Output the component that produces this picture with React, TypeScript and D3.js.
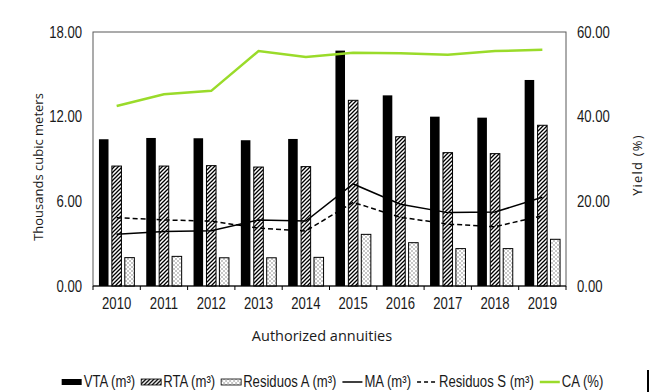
import React, { useEffect, useRef } from 'react';
import * as d3 from 'd3';

// Data
const years = ['2010', '2011', '2012', '2013', '2014', '2015', '2016', '2017', '2018', '2019'];
const vta = [10.40, 10.49, 10.47, 10.33, 10.42, 16.68, 13.51, 12.00, 11.93, 14.60];
const rta = [8.50, 8.50, 8.53, 8.43, 8.46, 13.16, 10.58, 9.45, 9.38, 11.39];
const residuosA = [2.01, 2.10, 2.00, 2.00, 2.03, 3.66, 3.07, 2.65, 2.65, 3.31];
const ma = [3.66, 3.87, 3.92, 4.68, 4.60, 7.23, 5.79, 5.20, 5.24, 6.29];
const residuosS = [4.84, 4.68, 4.60, 4.10, 3.90, 5.93, 4.87, 4.39, 4.20, 4.98];
const ca = [42.5, 45.3, 46.1, 55.5, 54.1, 55.1, 55.0, 54.6, 55.5, 55.8];

const leftTicks = [0, 6, 12, 18];
const rightTicks = [0, 20, 40, 60];

const barSeries = ['VTA', 'RTA', 'ResA'];

const WIDTH = 652;
const HEIGHT = 392;
const FONT = '"Liberation Sans", Arial, sans-serif';
const SQUEEZE = 0.82; // fake narrow glyphs
const TITLE_FONT = '"Open Sans", "DejaVu Sans", sans-serif';
const TEXT_COLOR = '#1a1a1a';
const GREEN = '#9ADB2A';

const App: React.FC = () => {
  const svgRef = useRef<SVGSVGElement>(null);

  useEffect(() => {
    if (!svgRef.current) return;
    const svg = d3.select(svgRef.current);
    svg.selectAll('*').remove();

    const margin = { top: 32, right: 86, bottom: 106, left: 93 };
    const innerW = WIDTH - margin.left - margin.right;
    const innerH = HEIGHT - margin.top - margin.bottom;

    // Patterns
    const defs = svg.append('defs');
    const hatch = defs.append('pattern')
      .attr('id', 'hatch')
      .attr('patternUnits', 'userSpaceOnUse')
      .attr('width', 4)
      .attr('height', 4);
    hatch.append('rect').attr('width', 4).attr('height', 4).attr('fill', '#fff');
    hatch.append('path')
      .attr('d', 'M-1,1 l2,-2 M0,4 l4,-4 M3,5 l2,-2')
      .attr('stroke', '#000')
      .attr('stroke-width', 1.3);

    const dots = defs.append('pattern')
      .attr('id', 'dots')
      .attr('patternUnits', 'userSpaceOnUse')
      .attr('width', 4)
      .attr('height', 4);
    dots.append('rect').attr('width', 4).attr('height', 4).attr('fill', '#fff');
    dots.append('rect').attr('x', 0.5).attr('y', 0.5).attr('width', 1).attr('height', 1).attr('fill', '#222');
    dots.append('rect').attr('x', 2.5).attr('y', 2.5).attr('width', 1).attr('height', 1).attr('fill', '#222');

    const fills: Record<string, string> = { VTA: '#000', RTA: 'url(#hatch)', ResA: 'url(#dots)' };
    const values: Record<string, number[]> = { VTA: vta, RTA: rta, ResA: residuosA };

    const g = svg.append('g').attr('transform', `translate(${margin.left},${margin.top})`);

    // Scales
    const x = d3.scaleBand().domain(years).range([0, innerW]).paddingInner(0).paddingOuter(0);
    const xInner = d3.scaleBand().domain(barSeries).range([0, x.bandwidth()])
      .paddingInner(0.26).paddingOuter(0.46);
    const yLeft = d3.scaleLinear().domain([0, 18]).range([innerH, 0]);
    const yRight = d3.scaleLinear().domain([0, 60]).range([innerH, 0]);

    // Plot frame
    g.append('rect')
      .attr('width', innerW)
      .attr('height', innerH)
      .attr('fill', 'none')
      .attr('stroke', '#595959')
      .attr('stroke-width', 1);

    // Bars
    barSeries.forEach(s => {
      g.append('g')
        .selectAll('rect')
        .data(values[s])
        .join('rect')
        .attr('x', (_, i) => (x(years[i]) as number) + (xInner(s) as number))
        .attr('y', d => yLeft(d))
        .attr('width', xInner.bandwidth())
        .attr('height', d => innerH - yLeft(d))
        .attr('fill', fills[s])
        .attr('stroke', '#000')
        .attr('stroke-width', s === 'VTA' ? 0 : 1);
    });

    const cx = (i: number) => (x(years[i]) as number) + x.bandwidth() / 2;

    // Lines
    const lineLeft = d3.line<number>().x((_, i) => cx(i)).y(d => yLeft(d));
    const lineRight = d3.line<number>().x((_, i) => cx(i)).y(d => yRight(d));

    g.append('path')
      .datum(ma)
      .attr('fill', 'none')
      .attr('stroke', '#000')
      .attr('stroke-width', 1.5)
      .attr('d', lineLeft);

    g.append('path')
      .datum(residuosS)
      .attr('fill', 'none')
      .attr('stroke', '#000')
      .attr('stroke-width', 1.5)
      .attr('stroke-dasharray', '5,3')
      .attr('d', lineLeft);

    g.append('path')
      .datum(ca)
      .attr('fill', 'none')
      .attr('stroke', GREEN)
      .attr('stroke-width', 2.5)
      .attr('d', lineRight);

    // X axis line + ticks at band boundaries
    g.append('line')
      .attr('x1', 0).attr('x2', innerW)
      .attr('y1', innerH).attr('y2', innerH)
      .attr('stroke', '#000');
    const boundaries = years.map(yr => x(yr) as number).concat([innerW]);
    g.append('g')
      .selectAll('line')
      .data(boundaries)
      .join('line')
      .attr('x1', d => d).attr('x2', d => d)
      .attr('y1', innerH).attr('y2', innerH + 4)
      .attr('stroke', '#000');

    g.append('g')
      .selectAll('text')
      .data(years)
      .join('text')
      .attr('transform', d => `translate(${(x(d) as number) + x.bandwidth() / 2},${innerH + 23}) scale(${SQUEEZE},1)`)
      .attr('text-anchor', 'middle')
      .attr('font-family', FONT)
      .attr('font-size', 16)
      .attr('fill', TEXT_COLOR)
      .text(d => d);

    // Y axes labels
    g.append('g')
      .selectAll('text')
      .data(leftTicks)
      .join('text')
      .attr('transform', d => `translate(-11,${yLeft(d)}) scale(${SQUEEZE},1)`)
      .attr('dy', '0.35em')
      .attr('text-anchor', 'end')
      .attr('font-family', FONT)
      .attr('font-size', 16)
      .attr('fill', TEXT_COLOR)
      .text(d => d3.format('.2f')(d));

    g.append('g')
      .selectAll('text')
      .data(rightTicks)
      .join('text')
      .attr('transform', d => `translate(${innerW + 11},${yRight(d)}) scale(${SQUEEZE},1)`)
      .attr('dy', '0.35em')
      .attr('text-anchor', 'start')
      .attr('font-family', FONT)
      .attr('font-size', 16)
      .attr('fill', TEXT_COLOR)
      .text(d => d3.format('.2f')(d));

    // Axis titles
    svg.append('text')
      .attr('x', 322)
      .attr('y', 341)
      .attr('text-anchor', 'middle')
      .attr('font-family', TITLE_FONT)
      .attr('font-size', 14.5)
      .attr('fill', TEXT_COLOR)
      .text('Authorized annuities');

    svg.append('text')
      .attr('transform', 'translate(43,167) rotate(-90)')
      .attr('text-anchor', 'middle')
      .attr('font-family', TITLE_FONT)
      .attr('font-size', 13)
      .attr('fill', TEXT_COLOR)
      .text('Thousands cubic meters');

    svg.append('text')
      .attr('transform', 'translate(642,165) rotate(-90)')
      .attr('text-anchor', 'middle')
      .attr('font-family', TITLE_FONT)
      .attr('font-size', 13)
      .attr('letter-spacing', 1.2)
      .attr('fill', TEXT_COLOR)
      .text('Yield (%)');

    // Legend
    const legendItems = [
      { label: 'VTA (m³)', kind: 'rect', fill: '#000' },
      { label: 'RTA (m³)', kind: 'rect', fill: 'url(#hatch)' },
      { label: 'Residuos A (m³)', kind: 'rect', fill: 'url(#dots)' },
      { label: 'MA (m³)', kind: 'line', color: '#000', dash: null },
      { label: 'Residuos S (m³)', kind: 'line', color: '#000', dash: '4,3' },
      { label: 'CA (%)', kind: 'line', color: GREEN, dash: null },
    ];
    const legend = svg.append('g');
    const swW = 20;
    const baseline = 387;
    const swY = 382;
    let cursor = 0;
    legendItems.forEach(item => {
      const it = legend.append('g').attr('transform', `translate(${cursor},0)`);
      if (item.kind === 'rect') {
        it.append('rect')
          .attr('x', 0).attr('y', swY - 3)
          .attr('width', swW).attr('height', 6)
          .attr('fill', item.fill as string)
          .attr('stroke', '#000')
          .attr('stroke-width', item.fill === '#000' ? 0 : 0.8);
      } else {
        it.append('line')
          .attr('x1', 0).attr('x2', swW)
          .attr('y1', swY).attr('y2', swY)
          .attr('stroke', item.color as string)
          .attr('stroke-width', item.color === GREEN ? 2.5 : 1.5)
          .attr('stroke-dasharray', item.dash as any);
      }
      const t = it.append('text')
        .attr('transform', `translate(${swW + 2},${baseline}) scale(${SQUEEZE},1)`)
        .attr('font-family', FONT)
        .attr('font-size', 16)
        .attr('fill', TEXT_COLOR)
        .text(item.label);
      const tw = (t.node() as SVGTextElement).getComputedTextLength() * SQUEEZE;
      cursor += swW + 2 + tw + 6;
    });
    const total = cursor - 6;
    legend.attr('transform', `translate(${332.5 - total / 2},0)`);

    // Stray vertical mark at right of legend
    svg.append('rect')
      .attr('x', 647).attr('y', 370)
      .attr('width', 2).attr('height', 22)
      .attr('fill', '#000');
  }, []);

  return (
    <div style={{ position: 'absolute', left: 0, top: 0 }}>
      <svg ref={svgRef} width={WIDTH} height={HEIGHT} style={{ display: 'block', background: '#fff' }} />
    </div>
  );
};

export default App;
